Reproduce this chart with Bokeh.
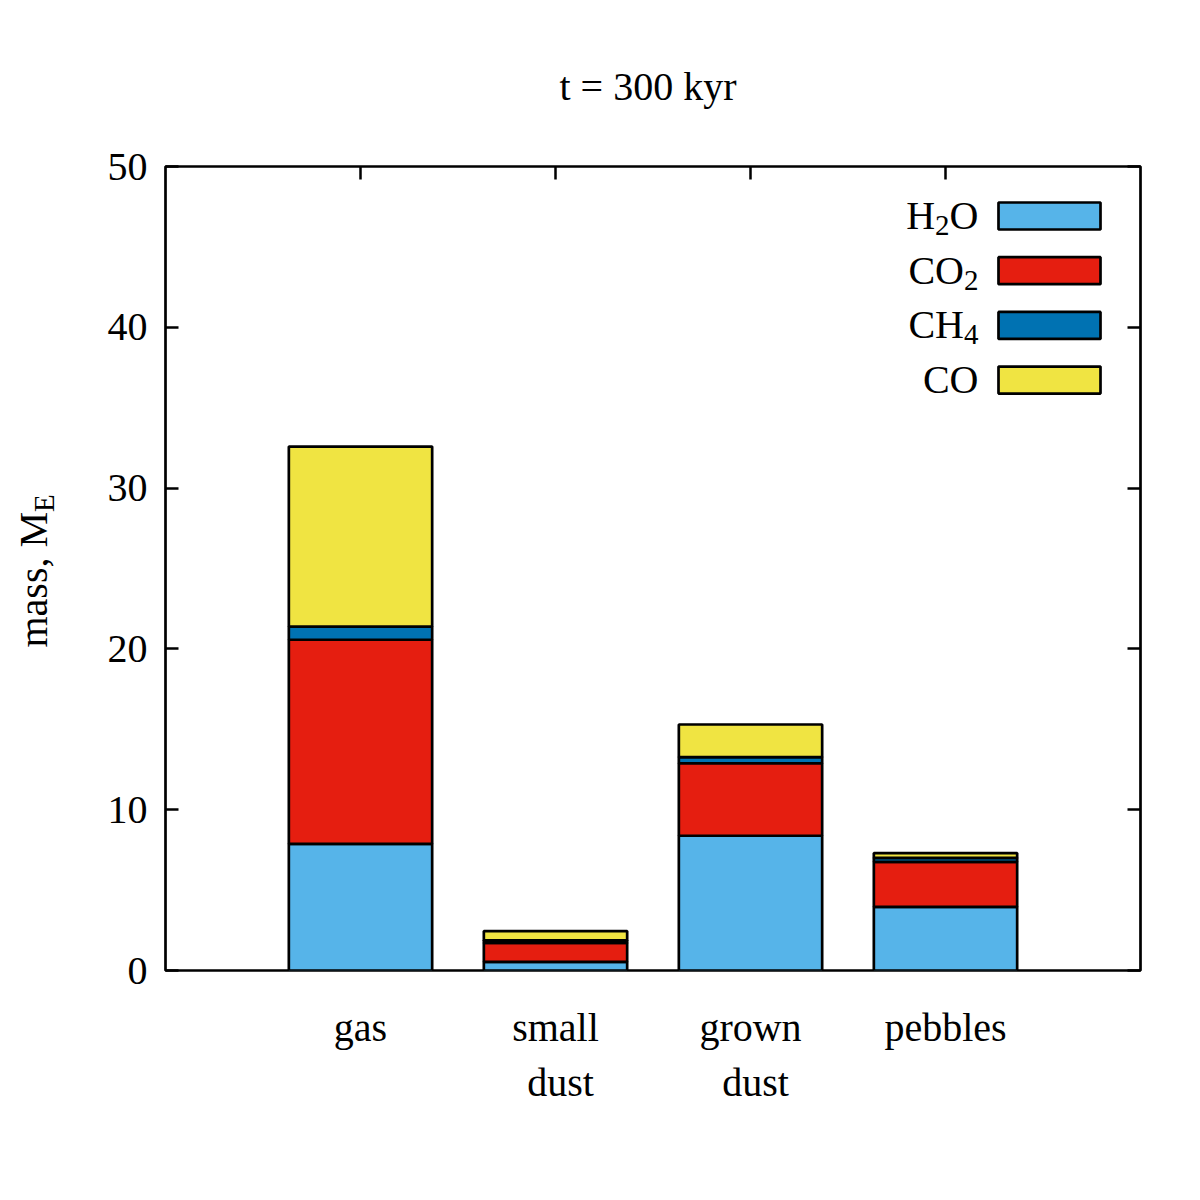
import math
from bokeh.plotting import figure
from bokeh.models import ColumnDataSource, Range1d, LinearAxis, FixedTicker, Label
from bokeh.embed import file_html
from bokeh.resources import INLINE

# ---------------- data ----------------
categories = ["gas", "small\ndust", "grown\ndust", "pebbles"]
species = ["H2O", "CO2", "CH4", "CO"]
h2o = [7.88, 0.54, 8.38, 3.96]
co2 = [12.69, 1.17, 4.51, 2.80]
ch4 = [0.82, 0.16, 0.38, 0.24]
co = [11.19, 0.58, 2.03, 0.30]
y_ticks = [0, 10, 20, 30, 40, 50]
title_text = "t =  300 kyr"
ylabel_main = "mass, M"
ylabel_sub = "E"

colors = ["#56B4E9", "#E51E10", "#0072B2", "#F0E442"]

# ---------------- layout (canvas pixels) ----------------
FONT = "Liberation Serif"
FS = 40
FS_SUB = 29
SUB_DROP = 10
BASE_FIX = -15
FL, FR, FT, FB = 165, 1140, 166, 970   # frame edges in canvas px
XMIN, XMAX, YMIN, YMAX = 0, 5, 0, 50
W = H = 1192

def px2x(px):
    return XMIN + (px - FL) / (FR - FL) * (XMAX - XMIN)

def py2y(py):
    return YMIN + (FB - py) / (FB - FT) * (YMAX - YMIN)

def x2px(x):
    return FL + (x - XMIN) / (XMAX - XMIN) * (FR - FL)

METRIC = {"H": 0.722, "O": 0.722, "C": 0.667, "2": 0.5, "4": 0.5, "M": 0.889,
          "m": 0.778, "a": 0.444, "s": 0.389, ",": 0.25, " ": 0.25, "E": 0.611}

def twidth(s, fs):
    return sum(METRIC.get(c, 0.5) for c in s) * fs

def dlabel(px, py, text, fs=FS, align="left", angle=0.0, dx=0.0):
    if angle == 0.0:
        x, y = px2x(px), py2y(py + BASE_FIX)
    else:
        x, y = px2x(px + BASE_FIX + dx), py2y(py)
    return Label(x=x, y=y, text=text, angle=angle, text_font=FONT,
                 text_font_size=f"{fs}px", text_color="black",
                 text_align=align, text_baseline="alphabetic")

p = figure(width=W, height=H, x_range=Range1d(XMIN, XMAX), y_range=Range1d(YMIN, YMAX),
           output_backend="svg", toolbar_location=None,
           min_border_left=FL, min_border_right=W - FR,
           min_border_top=FT, min_border_bottom=H - FB)
p.background_fill_color = "white"
p.border_fill_color = "white"
p.outline_line_color = "black"
p.outline_line_width = 2.7
p.grid.visible = False
p.xaxis.visible = False

# left axis
ya = p.yaxis[0]
ya.ticker = FixedTicker(ticks=y_ticks)
ya.major_label_text_font = FONT
ya.major_label_text_font_size = f"{FS}px"
ya.major_label_text_color = "black"
ya.major_tick_in = 13
ya.major_tick_out = 0
ya.minor_tick_in = 0
ya.minor_tick_out = 0
ya.major_tick_line_width = 2.5
ya.axis_line_color = None
ya.major_label_standoff = 18

# mirrored axes: ticks only
ra = LinearAxis(ticker=FixedTicker(ticks=y_ticks), major_label_text_color=None,
                major_label_text_font_size="8px",
                major_tick_in=13, major_tick_out=0, minor_tick_in=0, minor_tick_out=0,
                major_tick_line_width=2.5, axis_line_color=None, major_label_standoff=0)
p.add_layout(ra, "right")

xs = [i + 1 for i in range(len(categories))]
ta = LinearAxis(ticker=FixedTicker(ticks=xs), major_label_text_color=None,
                major_label_text_font_size="8px",
                major_tick_in=13, major_tick_out=0, minor_tick_in=0, minor_tick_out=0,
                major_tick_line_width=2.5, axis_line_color=None, major_label_standoff=0)
p.add_layout(ta, "above")

# stacked bars
src = ColumnDataSource(dict(x=xs, H2O=h2o, CO2=co2, CH4=ch4, CO=co))
p.vbar_stack(species, x="x", width=0.735, source=src, fill_color=colors,
             line_color="black", line_width=2.7)

# x category labels: placed in side panels (not clipped); their data
# coordinates put them under the bars.  Second lines go to the top panel
# only to keep the bottom panel within its border size.
for xi, cat in zip(xs, categories):
    for k, line in enumerate(cat.split("\n")):
        off = 5 if k > 0 else 0
        p.add_layout(dlabel(x2px(xi) + off, 1042 + 55 * k, line, align="center"),
                     "below" if k == 0 else "above")

# title
p.add_layout(dlabel((FL + FR) / 2, 101, title_text, align="center"), "above")

# y label (rotated) with subscript
YL_BASE_X = 48
YL_BOTTOM = 647
p.add_layout(dlabel(YL_BASE_X, YL_BOTTOM, ylabel_main, angle=math.pi / 2), "left")
p.add_layout(dlabel(YL_BASE_X, YL_BOTTOM - twidth(ylabel_main, FS), ylabel_sub, fs=FS_SUB,
                    angle=math.pi / 2, dx=SUB_DROP), "left")

# legend (manual: label left of box, chemical subscripts)
LEG_TEXT_R = 978
BOX_L, BOX_R = 998, 1100
ROW0_TOP, BOX_H, ROW_STEP = 202, 27, 54.7
for i, (name, col) in enumerate(zip(species, colors)):
    top = ROW0_TOP + i * ROW_STEP
    bot = top + BOX_H
    p.quad(left=[px2x(BOX_L)], right=[px2x(BOX_R)], top=[py2y(top)], bottom=[py2y(bot)],
           fill_color=col, line_color="black", line_width=2.7)
    parts = []
    for c in name:
        sub = c.isdigit()
        if parts and parts[-1][1] == sub:
            parts[-1][0] += c
        else:
            parts.append([c, sub])
    xr = LEG_TEXT_R
    base = bot + 1
    for txt, sub in reversed(parts):
        fs = FS_SUB if sub else FS
        yb = base + (SUB_DROP if sub else 0)
        p.add_layout(dlabel(xr, yb, txt, fs=fs, align="right"))
        xr -= twidth(txt, fs)

open("out.html", "w").write(file_html(p, INLINE))
